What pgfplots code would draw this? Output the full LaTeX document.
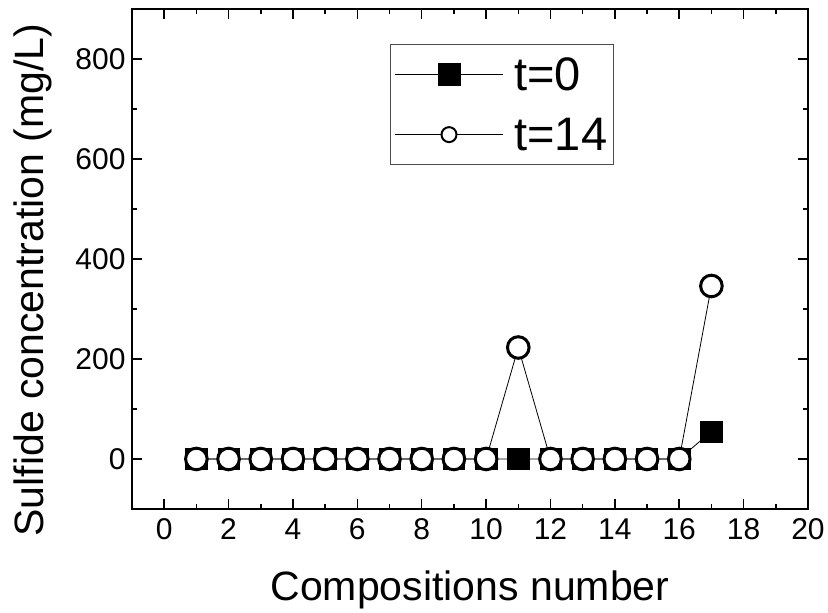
\documentclass[border=0pt]{standalone}
\usepackage{pgfplots}
\pgfplotsset{compat=1.18}
\usepackage{fontspec}
\setmainfont{Liberation Sans}
\begin{document}
\begin{tikzpicture}
\begin{axis}[
  scale only axis,
  width=676pt, height=500pt,
  xmin=-1, xmax=20, ymin=-100, ymax=900,
  xtick={0,2,...,20}, ytick={0,200,...,800},
  minor x tick num=1, minor y tick num=1,
  major tick length=10pt, minor tick length=5pt,
  tick style={line width=1.5pt, black},
  axis line style={line width=1.8pt},
  tick align=inside,
  /pgf/number format/assume math mode=true,
  ticklabel style={font=\fontsize{30}{34}\selectfont},
  xticklabel style={yshift=-6pt},
  yticklabel style={xshift=-3pt},
  xlabel={Compositions number},
  ylabel={Sulfide concentration (mg/L)},
  label style={font=\fontsize{41}{48}\selectfont},
  xlabel style={at={(axis description cs:0.5,-0.162)}, anchor=center},
  ylabel style={at={(axis description cs:-0.1465,0.458)}, anchor=center},
  legend style={at={(axis description cs:0.382,0.93)}, anchor=north west,
    draw=black!70, line width=0.8pt, font=\fontsize{47}{52}\selectfont,
    inner xsep=4pt, inner ysep=11pt, row sep=22pt, column sep=9pt,
    nodes={inner sep=2pt}},
  legend cell align=left,
  clip=false,
]
\addplot[black, line width=0.8pt, mark=square*, mark size=10.7pt,
  mark options={solid, fill=black, line width=0.5pt},
  legend image code/.code={
    \draw[black, line width=0.8pt] (5pt,0pt) -- (113pt,0pt);
    \fill[black] (48pt,-11pt) rectangle (70pt,11pt);
  }]
  coordinates {(1,0) (2,0) (3,0) (4,0) (5,0) (6,0) (7,0) (8,0) (9,0) (10,0)
  (11,0) (12,0) (13,0) (14,0) (15,0) (16,0) (17,55)};
\addlegendentry{t=0}
\addplot[black, line width=0.8pt, mark=*, mark size=10.8pt,
  mark options={solid, fill=white, line width=3pt},
  legend image code/.code={
    \draw[black, line width=0.8pt] (5pt,0pt) -- (113pt,0pt);
    \draw[black, fill=white, line width=2pt] (59pt,0pt) circle (7.5pt);
  }]
  coordinates {(1,0) (2,0) (3,0) (4,0) (5,0) (6,0) (7,0) (8,0) (9,0) (10,0)
  (11,223) (12,0) (13,0) (14,0) (15,0) (16,0) (17,346)};
\addlegendentry{t=14}
\end{axis}
\path (current axis.south west) ++(-132pt,-103pt) rectangle ++(828pt,612pt);
\end{tikzpicture}
\end{document}
